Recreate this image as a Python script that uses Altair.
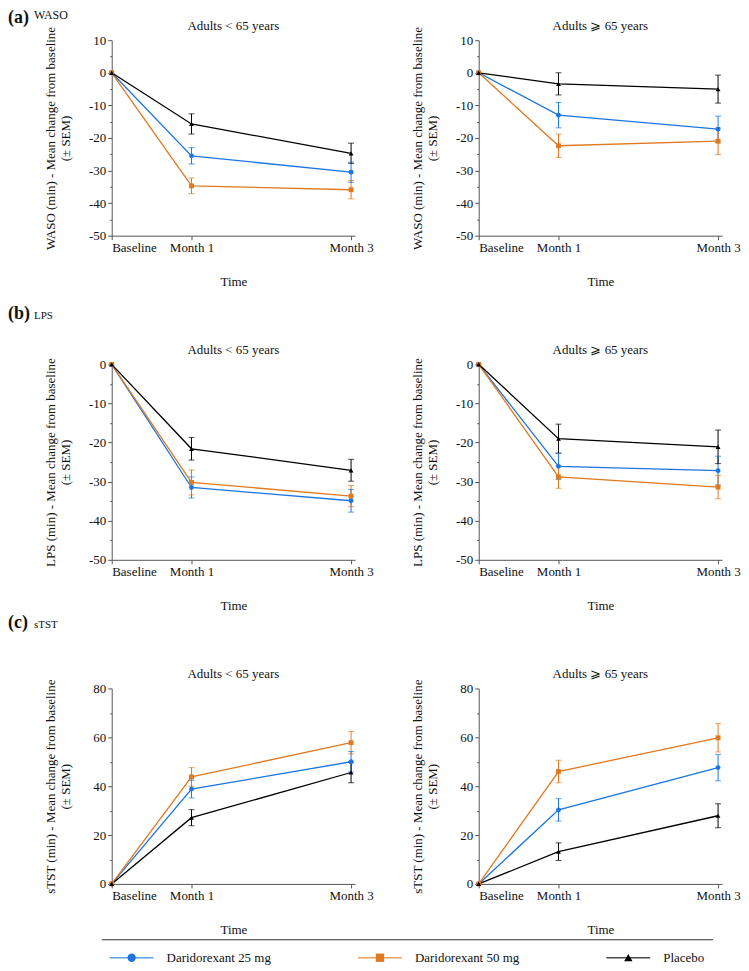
import altair as alt
import pandas as pd

# ---------------- data ----------------
months = [0, 1, 3]
tick_labels = ["Baseline", "Month 1", "Month 3"]
series = ["Daridorexant 25 mg", "Daridorexant 50 mg", "Placebo"]
colors = ["#1c75e0", "#e0791f", "#000000"]
shapes = ["circle", "square", "triangle-up"]
age_titles = ["Adults < 65 years", "Adults \u2a7e 65 years"]
panel_letters = ["(a)", "(b)", "(c)"]
metric_names = ["WASO", "LPS", "sTST"]

# WASO, adults < 65
waso_lt65_d25 = [0, -25.5, -30.5]
waso_lt65_d25_sem = [0, 2.5, 3.1]
waso_lt65_d50 = [0, -34.7, -35.9]
waso_lt65_d50_sem = [0, 2.4, 2.8]
waso_lt65_pbo = [0, -15.7, -24.7]
waso_lt65_pbo_sem = [0, 3.1, 3.1]
# WASO, adults >= 65
waso_ge65_d25 = [0, -13.0, -17.3]
waso_ge65_d25_sem = [0, 3.9, 4.0]
waso_ge65_d50 = [0, -22.4, -21.0]
waso_ge65_d50_sem = [0, 3.6, 4.1]
waso_ge65_pbo = [0, -3.4, -5.0]
waso_ge65_pbo_sem = [0, 3.4, 4.3]
# LPS, adults < 65
lps_lt65_d25 = [0, -31.5, -34.9]
lps_lt65_d25_sem = [0, 2.7, 2.9]
lps_lt65_d50 = [0, -30.2, -33.7]
lps_lt65_d50_sem = [0, 3.2, 2.7]
lps_lt65_pbo = [0, -21.6, -27.1]
lps_lt65_pbo_sem = [0, 2.9, 2.8]
# LPS, adults >= 65
lps_ge65_d25 = [0, -26.1, -27.2]
lps_ge65_d25_sem = [0, 3.3, 3.7]
lps_ge65_d50 = [0, -28.8, -31.4]
lps_ge65_d50_sem = [0, 2.9, 3.0]
lps_ge65_pbo = [0, -19.0, -21.1]
lps_ge65_pbo_sem = [0, 3.7, 4.3]
# sTST, adults < 65
stst_lt65_d25 = [0, 38.8, 50.0]
stst_lt65_d25_sem = [0, 3.6, 4.2]
stst_lt65_d50 = [0, 43.8, 57.8]
stst_lt65_d50_sem = [0, 3.8, 4.6]
stst_lt65_pbo = [0, 27.1, 45.6]
stst_lt65_pbo_sem = [0, 3.3, 4.2]
# sTST, adults >= 65
stst_ge65_d25 = [0, 30.3, 47.6]
stst_ge65_d25_sem = [0, 4.6, 5.4]
stst_ge65_d50 = [0, 46.0, 59.8]
stst_ge65_d50_sem = [0, 4.6, 5.8]
stst_ge65_pbo = [0, 13.2, 27.9]
stst_ge65_pbo_sem = [0, 3.6, 4.9]

FONT = "Liberation Serif"
W, H = 244, 196


def frame(means_list, sems_list):
    rows = []
    for name, means, sems in zip(series, means_list, sems_list):
        for m, v, s in zip(months, means, sems):
            rows.append({"series": name, "month": m, "mean": v, "sem": s,
                         "lo": v - s, "hi": v + s})
    return pd.DataFrame(rows)


x_label_expr = " : ".join(
    f"datum.value == {m} ? '{lab}'" for m, lab in zip(months[:-1], tick_labels[:-1])
) + f" : '{tick_labels[-1]}'"

color_enc = alt.Color("series:N", scale=alt.Scale(domain=series, range=colors), legend=None)
shape_enc = alt.Shape("series:N", scale=alt.Scale(domain=series, range=shapes), legend=None)


def text_layer(value, **kw):
    enc = {k: kw.pop(k) for k in ("x", "y")}
    return alt.Chart(pd.DataFrame({"t": [value]})).mark_text(
        font=FONT, color="#111", **kw).encode(text="t:N", **enc)


def panel(df, title, ydom, major, metric, letter=None, legend=False):
    x_axis = alt.Axis(values=months, labelExpr=x_label_expr, title="Time",
                      tickSize=4, labelPadding=2, titlePadding=21)
    x_scale = alt.Scale(domain=[0, 3.05], nice=False, zero=False)
    y_axis = alt.Axis(
        values=list(range(ydom[0], ydom[1] + 1, major // 2)),
        labelExpr=f"datum.value % {major} == 0 ? '' + datum.value : ''",
        tickSize={"condition": {"test": f"datum.value % {major} == 0", "value": 4}, "value": 2},
        labelPadding=2,
        title=[f"{metric} (min) - Mean change from baseline", "(\u00b1 SEM)"],
        titleX=-54, titleBaseline="bottom", titleLineHeight=15,
    )
    y_scale = alt.Scale(domain=ydom, nice=False, zero=False)

    def X():
        return alt.X("month:Q", scale=x_scale, axis=x_axis)

    def Y(field):
        return alt.Y(f"{field}:Q", scale=y_scale, axis=y_axis)

    base = alt.Chart(df)
    line = base.mark_line(strokeWidth=1.3).encode(x=X(), y=Y("mean"), color=color_enc)
    err = base.transform_filter("datum.sem > 0")
    bar = err.mark_rule(strokeWidth=1).encode(x=X(), y=Y("lo"), y2="hi:Q", color=color_enc)
    cap_lo = err.mark_tick(orient="horizontal", size=6, thickness=1).encode(
        x=X(), y=Y("lo"), color=color_enc)
    cap_hi = err.mark_tick(orient="horizontal", size=6, thickness=1).encode(
        x=X(), y=Y("hi"), color=color_enc)
    pts = base.mark_point(filled=True, size=24, opacity=1).encode(
        x=X(), y=Y("mean"), color=color_enc, shape=shape_enc)

    ttl = text_layer(title, fontSize=13, align="center", baseline="middle",
                     x=alt.value(W / 2), y=alt.value(-14))

    layers = [line, bar, cap_lo, cap_hi, pts, ttl]
    if letter is not None:
        idx, ly = letter
        layers.append(text_layer(panel_letters[idx], fontSize=18, fontWeight="bold",
                                 align="left", baseline="alphabetic",
                                 x=alt.value(-104), y=alt.value(ly)))
        layers.append(text_layer(metric_names[idx], fontSize=12 if idx == 0 else 11,
                                 align="left", baseline="alphabetic",
                                 x=alt.value(-78), y=alt.value(ly - (4 if idx == 0 else 0))))

    body = alt.layer(*layers)
    if legend:
        leg_df = pd.DataFrame({"series": series})
        lx = alt.X("series:N", scale=alt.Scale(type="point", domain=series, range=[20, 518], padding=0),
                   axis=None)
        sep = alt.Chart(pd.DataFrame({"k": [0]})).mark_rule(color="#333", strokeWidth=1).encode(
            x=alt.value(-10), x2=alt.value(603), y=alt.value(252))
        leg = alt.Chart(leg_df)
        seg = leg.mark_tick(orient="horizontal", size=44, thickness=1.6).encode(
            x=lx, y=alt.value(270), color=color_enc)
        sym = leg.mark_point(filled=True, size=70, opacity=1).encode(
            x=lx, y=alt.value(270), color=color_enc, shape=shape_enc)
        txt = leg.mark_text(font=FONT, fontSize=13, align="left", baseline="middle", dx=35,
                            color="#111").encode(x=lx, y=alt.value(270), text="series:N")
        body = alt.layer(body, alt.layer(sep, seg, sym, txt)).resolve_scale(x="independent")

    return body.properties(width=W, height=H)


a1 = panel(frame([waso_lt65_d25, waso_lt65_d50, waso_lt65_pbo],
                 [waso_lt65_d25_sem, waso_lt65_d50_sem, waso_lt65_pbo_sem]),
           age_titles[0], [-50, 10], 10, "WASO", letter=(0, -17))
a2 = panel(frame([waso_ge65_d25, waso_ge65_d50, waso_ge65_pbo],
                 [waso_ge65_d25_sem, waso_ge65_d50_sem, waso_ge65_pbo_sem]),
           age_titles[1], [-50, 10], 10, "WASO")
b1 = panel(frame([lps_lt65_d25, lps_lt65_d50, lps_lt65_pbo],
                 [lps_lt65_d25_sem, lps_lt65_d50_sem, lps_lt65_pbo_sem]),
           age_titles[0], [-50, 0], 10, "LPS", letter=(1, -45))
b2 = panel(frame([lps_ge65_d25, lps_ge65_d50, lps_ge65_pbo],
                 [lps_ge65_d25_sem, lps_ge65_d50_sem, lps_ge65_pbo_sem]),
           age_titles[1], [-50, 0], 10, "LPS")
c1 = panel(frame([stst_lt65_d25, stst_lt65_d50, stst_lt65_pbo],
                 [stst_lt65_d25_sem, stst_lt65_d50_sem, stst_lt65_pbo_sem]),
           age_titles[0], [0, 80], 20, "sTST", letter=(2, -61), legend=True)
c2 = panel(frame([stst_ge65_d25, stst_ge65_d50, stst_ge65_pbo],
                 [stst_ge65_d25_sem, stst_ge65_d50_sem, stst_ge65_pbo_sem]),
           age_titles[1], [0, 80], 20, "sTST")

chart = alt.concat(a1, a2, b1, b2, c1, c2, columns=2,
                   spacing={"row": 129, "column": 124}, bounds="flush").properties(
    padding=0
).configure_view(stroke=None).configure_axis(
    grid=False, domainColor="#555", tickColor="#555", domainWidth=1, tickWidth=1,
    labelColor="#111", titleColor="#111", labelFont=FONT, titleFont=FONT,
    labelFontSize=13, titleFontSize=13, titleFontWeight="normal",
)

chart.save("out.html", embed_options={"renderer": "svg", "actions": False})
